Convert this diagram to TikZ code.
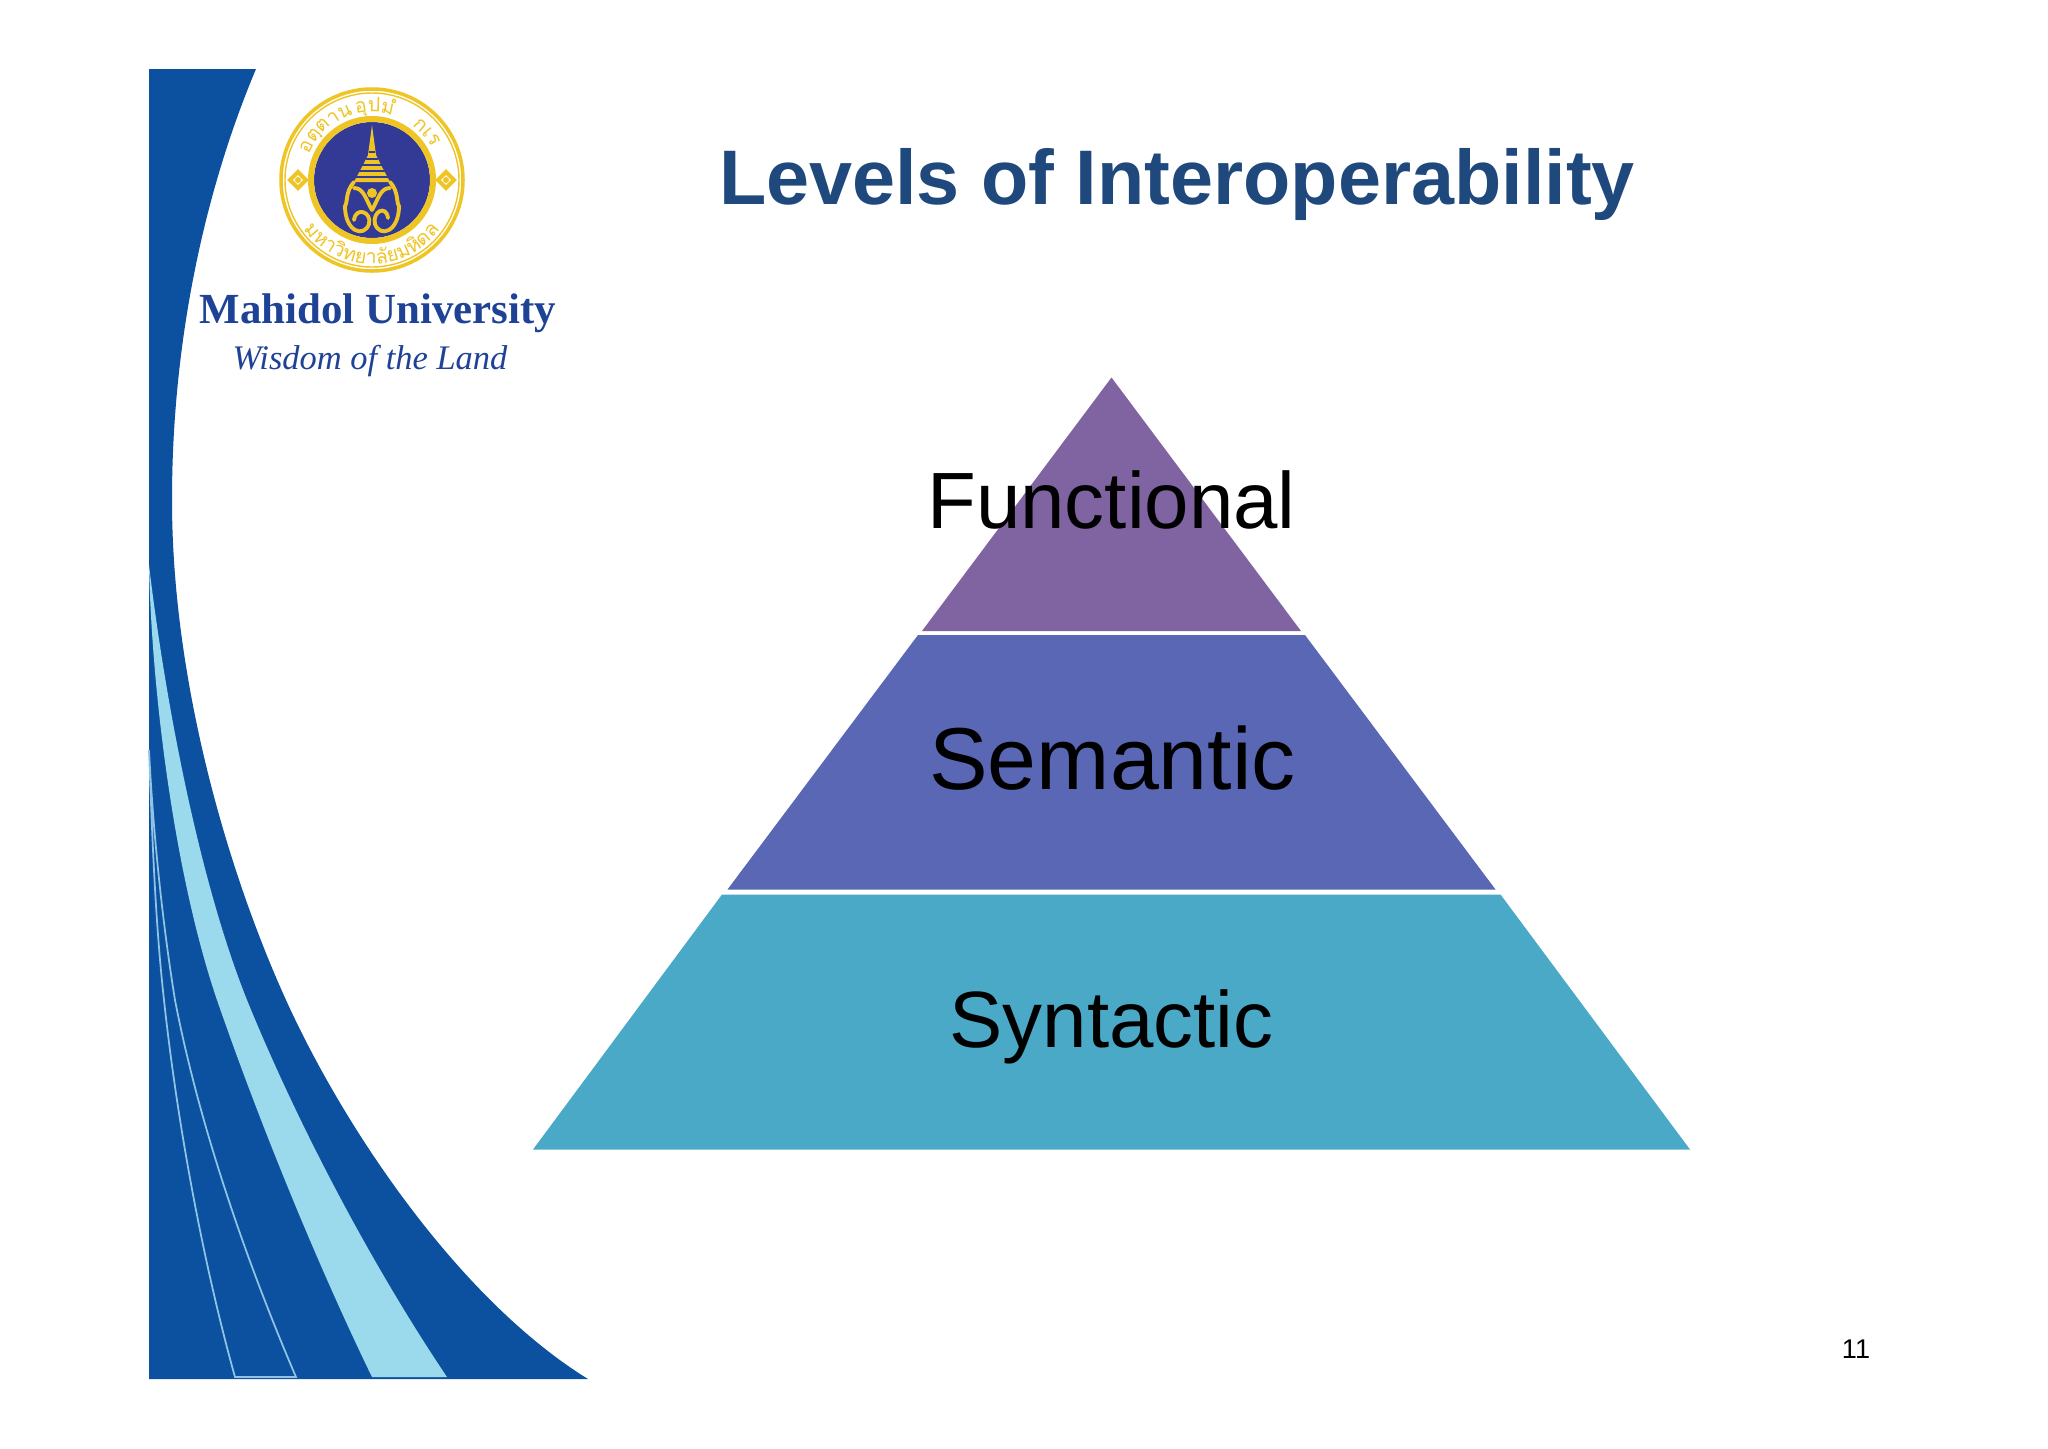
\documentclass[tikz,border=0pt]{standalone}
\usepackage{fontspec}
\setmainfont{Liberation Sans}
\newfontfamily\serifuni{Liberation Serif}
\newfontfamily\thaifont[Script=Thai]{Loma}
\usetikzlibrary{decorations.text}
\definecolor{ink}{HTML}{1F497D}
\definecolor{swoosh}{HTML}{0C50A0}
\definecolor{pale}{HTML}{9BD9EC}
\definecolor{hairline}{HTML}{8FC4E4}
\definecolor{purple}{HTML}{8064A2}
\definecolor{indigo}{HTML}{5A67B5}
\definecolor{teal}{HTML}{4BA9C8}
\definecolor{gold}{HTML}{EFC425}
\definecolor{seal}{HTML}{323A96}
\definecolor{unitext}{HTML}{1E4296}
\newcommand{\ringfont}{\color{gold}\thaifont\fontsize{5.6pt}{6pt}\selectfont}
\begin{document}
\begin{tikzpicture}[x=.01cm,y=-.01cm,
 tier/.style={draw=none},
 label/.style={font=\fontsize{22.7pt}{26pt}\selectfont,text=black,inner sep=0pt,anchor=base},
 crest/.style={draw=gold,line width=1.1pt,line cap=round,line join=round},
 ringtext/.style={decorate,decoration={text along path,text align=center,text={#1}}}]
\path[use as bounding box,fill=white] (0,0) rectangle (2048,1448);
\fill[swoosh] (149,69)--(256,69) .. controls (205,190) and (172,340) .. (172,500) .. controls (172,680) and (227,870) .. (286,1000) .. controls (345,1130) and (460,1300) .. (588,1379)--(149,1379)--cycle;
\fill[pale] (149,565) .. controls (165,700) and (199,880) .. (247,1000) .. controls (300,1130) and (375,1270) .. (447,1377)--(372,1377) .. controls (320,1270) and (262,1130) .. (217,1000) .. controls (176,880) and (152,700) .. (149,565)--cycle;
\draw[hairline,line width=.5pt] (149,750) .. controls (152,830) and (155,920) .. (164,1000) .. controls (178,1130) and (205,1270) .. (235,1377)--(296,1377) .. controls (250,1270) and (200,1130) .. (175,1000) .. controls (162,920) and (153,830) .. (149,750);
\begin{scope}[shift={(372,180)},y=.01cm]
\draw[gold,line width=1pt] (0,0) circle[radius=91];
\draw[gold,line width=.4pt] (0,0) circle[radius=87];
\fill[seal] (0,0) circle[radius=58];
\draw[gold,line width=1.7pt] (0,0) circle[radius=61];
\foreach \side in {-74,74} {
\draw[gold,line width=1.2pt,fill=white] (\side-8,0)--(\side,8)--(\side+8,0)--(\side,-8)--cycle;
\fill[gold] (\side,0) circle[radius=3];
}
\path[ringtext={|\ringfont|{อ}{ตฺ}{ต}{า}{นํ}}] (0,0)+(154:68) arc[start angle=154,end angle=110,radius=68];
\path[ringtext={|\ringfont|{อุ}{ป}{มํ}}] (0,0)+(106:68) arc[start angle=106,end angle=70,radius=68];
\path[ringtext={|\ringfont|{ก}{เ}{ร}}] (0,0)+(56:68) arc[start angle=56,end angle=26,radius=68];
\path[ringtext={|\ringfont|{ม}{ห}{า}{วิ}{ท}{ย}{า}{ลั}{ย}{ม}{หิ}{ด}{ล}}] (0,0)+(202:84) arc[start angle=202,end angle=338,radius=84];
\fill[gold] (0,55)--(4,25)--(9,15)--(18,-2)--(-18,-2)--(-9,15)--(-4,25)--cycle;
\foreach \ypos/\wid in {3/18,9/15,15/10,21/6,28/3} {
\draw[seal,line width=.35pt] (-\wid,\ypos)--(\wid,\ypos);
}
\draw[crest] (-18,-2)..controls (-27,-12) and (-24,-22) .. (-27,-26);
\draw[crest] (18,-2)..controls (27,-12) and (24,-22) .. (27,-26);
\draw[crest] (-27,-26)..controls (-27,-52) and (-8,-58) .. (-3,-44)..controls (0,-32) and (-16,-26) .. (-18,-40);
\draw[crest] (27,-26)..controls (27,-52) and (8,-58) .. (3,-44)..controls (0,-32) and (14,-24) .. (16,-38);
\draw[crest] (-18,-8)..controls (-8,-8) and (-6,-20) .. (0,-30)..controls (6,-20) and (8,-8) .. (18,-8);
\fill[gold] (0,-13) circle[radius=5];
\end{scope}
\node[font=\serifuni\bfseries\fontsize{12.2pt}{14pt}\selectfont,text=unitext,inner sep=0pt,anchor=base] (uniname) at (378,323) {Mahidol University};
\node[font=\serifuni\itshape\fontsize{9.8pt}{11pt}\selectfont,text=unitext,inner sep=0pt,anchor=base] (motto) at (370,369) {Wisdom of the Land};
\node[font=\bfseries\fontsize{22pt}{26pt}\selectfont,text=ink,inner sep=0pt,anchor=base] (title) at (1177,204) {Levels of Interoperability};
\fill[purple,tier] (1111.5,377.5)--(1301,631)--(922,631)--cycle;
\fill[indigo,tier] (918,635)--(1305,635)--(1495.5,889.5)--(727.5,889.5)--cycle;
\fill[teal,tier] (722,894.5)--(1500.5,894.5)--(1690,1149.5)--(533,1149.5)--cycle;
\node[label] (functional) at (1111.5,528) {Functional};
\node[label,font=\fontsize{25pt}{28pt}\selectfont] (semantic) at (1112.5,789) {Semantic};
\node[label] (syntactic) at (1111.5,1047) {Syntactic};
\node[font=\fontsize{7.7pt}{9pt}\selectfont,inner sep=0pt,anchor=base] (pagenum) at (1856,1358) {11};
\end{tikzpicture}
\end{document}
